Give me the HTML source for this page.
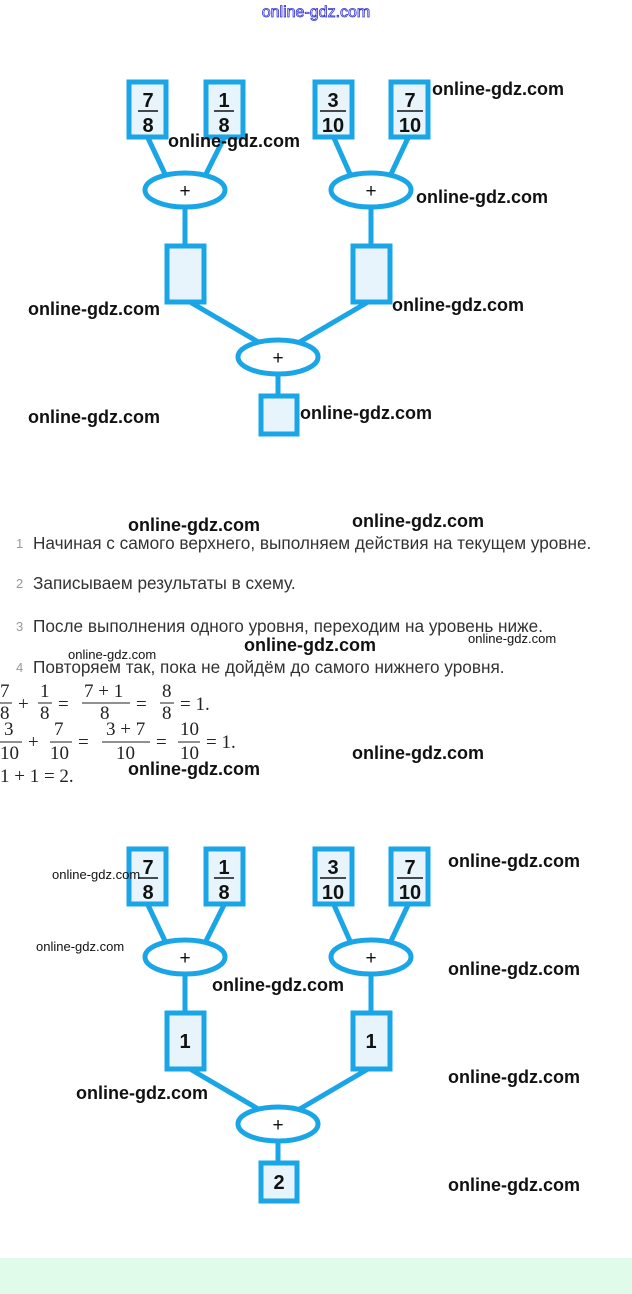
<!DOCTYPE html>
<html><head><meta charset="utf-8"><style>
body{margin:0;background:#fff;}
svg{display:block;}
.wm{font-family:"Liberation Sans",sans-serif;font-weight:bold;font-size:18px;fill:#111;}
.ws{font-family:"Liberation Sans",sans-serif;font-size:13px;fill:#111;}
.li{font-family:"Liberation Sans","DejaVu Sans",sans-serif;font-size:17.2px;fill:#333;}
.nm{fill:#999;font-size:13px;}
.eq{font-family:"Liberation Serif",serif;font-size:19px;fill:#222;}
.bx{font-family:"Liberation Sans",sans-serif;font-weight:bold;font-size:20px;fill:#111;}
.pl{font-family:"Liberation Sans",sans-serif;font-size:19px;fill:#111;}
</style></head><body>
<svg width="632" height="1294" viewBox="0 0 632 1294" xmlns="http://www.w3.org/2000/svg">
<defs>
<g id="tree" stroke="#1aa5e6" stroke-width="5" fill="#e8f4fc">
 <line x1="148" y1="138" x2="165" y2="174"/>
 <line x1="224" y1="138" x2="206" y2="174"/>
 <line x1="334" y1="138" x2="350" y2="174"/>
 <line x1="408" y1="138" x2="391" y2="174"/>
 <line x1="185" y1="206" x2="185" y2="246"/>
 <line x1="371" y1="206" x2="371" y2="246"/>
 <line x1="190" y1="302" x2="260" y2="343"/>
 <line x1="368" y1="302" x2="298" y2="343"/>
 <line x1="278" y1="374" x2="278" y2="396"/>
 <rect x="129" y="82" width="37" height="55"/>
 <rect x="206" y="82" width="37" height="55"/>
 <rect x="315" y="82" width="37" height="55"/>
 <rect x="391" y="82" width="37" height="55"/>
 <ellipse cx="185" cy="190" rx="40" ry="17" fill="#fff"/>
 <ellipse cx="371" cy="190" rx="40" ry="17" fill="#fff"/>
 <rect x="167" y="246" width="37" height="56"/>
 <rect x="353" y="246" width="37" height="56"/>
 <ellipse cx="278" cy="357" rx="40" ry="17" fill="#fff"/>
 <rect x="261" y="396" width="36" height="38"/>
</g>
<g id="fr">
 <text class="bx" x="148" y="107" text-anchor="middle">7</text>
 <line x1="138" y1="111" x2="158" y2="111" stroke="#111" stroke-width="1.5"/>
 <text class="bx" x="148" y="132" text-anchor="middle">8</text>
 <text class="bx" x="224" y="107" text-anchor="middle">1</text>
 <line x1="214" y1="111" x2="234" y2="111" stroke="#111" stroke-width="1.5"/>
 <text class="bx" x="224" y="132" text-anchor="middle">8</text>
 <text class="bx" x="333" y="107" text-anchor="middle">3</text>
 <line x1="320" y1="111" x2="346" y2="111" stroke="#111" stroke-width="1.5"/>
 <text class="bx" x="333" y="132" text-anchor="middle">10</text>
 <text class="bx" x="410" y="107" text-anchor="middle">7</text>
 <line x1="397" y1="111" x2="423" y2="111" stroke="#111" stroke-width="1.5"/>
 <text class="bx" x="410" y="132" text-anchor="middle">10</text>
 <text class="pl" x="185" y="197" text-anchor="middle">+</text>
 <text class="pl" x="371" y="197" text-anchor="middle">+</text>
 <text class="pl" x="278" y="364" text-anchor="middle">+</text>
</g>
</defs>
<text x="316" y="17" text-anchor="middle" font-family="Liberation Sans,sans-serif" font-size="16" fill="#fff" stroke="#3030d0" stroke-width="0.8">online-gdz.com</text>

<use href="#tree"/><use href="#fr"/>
<g transform="translate(0,767)"><use href="#tree"/><use href="#fr"/>
 <text class="bx" x="185" y="281" text-anchor="middle">1</text>
 <text class="bx" x="371" y="281" text-anchor="middle">1</text>
 <text class="bx" x="279" y="422" text-anchor="middle">2</text>
</g>

<text class="nm" x="16" y="548" font-family="Liberation Sans,sans-serif">1</text>
<text class="li" x="33" y="549">Начиная с самого верхнего, выполняем действия на текущем уровне.</text>
<text class="nm" x="16" y="588" font-family="Liberation Sans,sans-serif">2</text>
<text class="li" x="33" y="589">Записываем результаты в схему.</text>
<text class="nm" x="16" y="631" font-family="Liberation Sans,sans-serif">3</text>
<text class="li" x="33" y="632">После выполнения одного уровня, переходим на уровень ниже.</text>
<text class="nm" x="16" y="672" font-family="Liberation Sans,sans-serif">4</text>
<text class="li" x="33" y="673">Повторяем так, пока не дойдём до самого нижнего уровня.</text>

<g class="eq">
 <text x="0" y="697">7</text><line x1="0" y1="703" x2="12" y2="703" stroke="#222"/><text x="0" y="719">8</text>
 <text x="18" y="710">+</text>
 <text x="40" y="697">1</text><line x1="38" y1="703" x2="52" y2="703" stroke="#222"/><text x="40" y="719">8</text>
 <text x="58" y="710">=</text>
 <text x="84" y="697">7 + 1</text><line x1="82" y1="703" x2="130" y2="703" stroke="#222"/><text x="100" y="719">8</text>
 <text x="136" y="710">=</text>
 <text x="162" y="697">8</text><line x1="160" y1="703" x2="174" y2="703" stroke="#222"/><text x="162" y="719">8</text>
 <text x="180" y="710">= 1.</text>

 <text x="4" y="735">3</text><line x1="0" y1="742" x2="22" y2="742" stroke="#222"/><text x="0" y="759">10</text>
 <text x="28" y="748">+</text>
 <text x="54" y="735">7</text><line x1="50" y1="742" x2="72" y2="742" stroke="#222"/><text x="50" y="759">10</text>
 <text x="78" y="748">=</text>
 <text x="106" y="735">3 + 7</text><line x1="102" y1="742" x2="150" y2="742" stroke="#222"/><text x="116" y="759">10</text>
 <text x="156" y="748">=</text>
 <text x="180" y="735">10</text><line x1="178" y1="742" x2="200" y2="742" stroke="#222"/><text x="180" y="759">10</text>
 <text x="206" y="748">= 1.</text>

 <text x="0" y="782">1 + 1 = 2.</text>
</g>

<g class="wm">
 <text x="432" y="95">online-gdz.com</text>
 <text x="168" y="147">online-gdz.com</text>
 <text x="416" y="203">online-gdz.com</text>
 <text x="28" y="315">online-gdz.com</text>
 <text x="392" y="311">online-gdz.com</text>
 <text x="28" y="423">online-gdz.com</text>
 <text x="300" y="419">online-gdz.com</text>
 <text x="128" y="531">online-gdz.com</text>
 <text x="352" y="527">online-gdz.com</text>
 <text x="244" y="651">online-gdz.com</text>
 <text x="352" y="759">online-gdz.com</text>
 <text x="128" y="775">online-gdz.com</text>
 <text x="448" y="867">online-gdz.com</text>
 <text x="448" y="975">online-gdz.com</text>
 <text x="212" y="991">online-gdz.com</text>
 <text x="448" y="1083">online-gdz.com</text>
 <text x="76" y="1099">online-gdz.com</text>
 <text x="448" y="1191">online-gdz.com</text>
</g>
<g class="ws">
 <text x="468" y="643">online-gdz.com</text>
 <text x="68" y="659">online-gdz.com</text>
 <text x="52" y="879">online-gdz.com</text>
 <text x="36" y="951">online-gdz.com</text>
</g>
<rect x="0" y="1258" width="632" height="36" fill="#e0fbe9"/>
</svg>
</body></html>
